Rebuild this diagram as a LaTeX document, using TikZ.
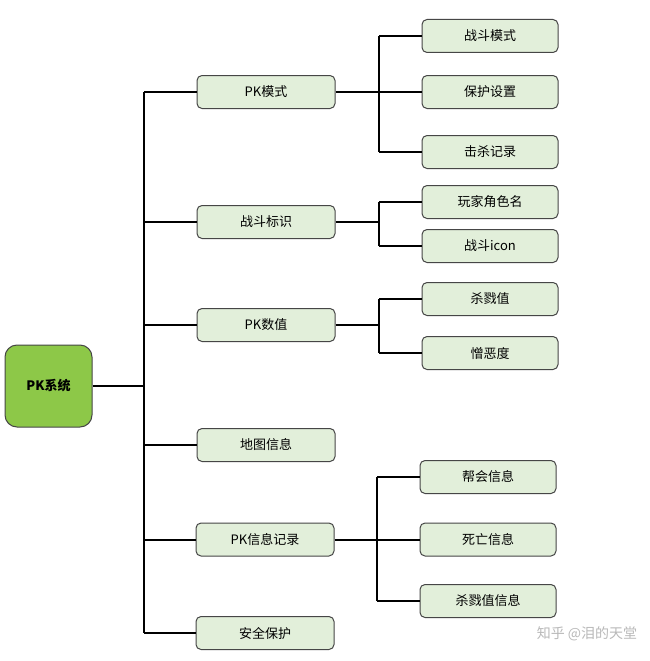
\documentclass[tikz,border=0pt]{standalone}
\usepackage{fontspec}
\setmainfont{Noto Sans CJK SC}
\definecolor{boxfill}{RGB}{226,239,218}
\definecolor{boxline}{RGB}{70,70,70}
\definecolor{rootfill}{RGB}{141,200,72}
\definecolor{wm}{RGB}{185,185,185}
\begin{document}
\begin{tikzpicture}[x=1pt,y=-1pt,
  leaf/.style={draw=boxline,line width=1pt,fill=boxfill,rounded corners=5pt,
    minimum width=136pt,minimum height=33pt,inner sep=0pt,
    font=\fontsize{13}{15}\selectfont},
  rootbox/.style={draw=boxline,line width=1pt,fill=rootfill,rounded corners=12pt,
    minimum width=87pt,minimum height=82pt,inner sep=0pt,
    font=\fontsize{13}{15}\selectfont\bfseries},
  link/.style={line width=2pt,black}]
\useasboundingbox (0,0) rectangle (650,661);
\fill[white] (0,0) rectangle (650,661);
% root
\node[rootbox] (root) at (48.5,386) {PK系统};
% level 1
\node[leaf,minimum width=138pt] (pk) at (266,92) {PK模式};
\node[leaf,minimum width=138pt] (zd) at (266,222) {战斗标识};
\node[leaf,minimum width=138pt] (sz) at (266,325) {PK数值};
\node[leaf,minimum width=138pt] (dt) at (266,445) {地图信息};
\node[leaf,minimum width=138pt] (jl) at (265,539.5) {PK信息记录};
\node[leaf,minimum width=138pt] (aq) at (265,633) {安全保护};
% level 2
\node[leaf] (a1) at (490,36) {战斗模式};
\node[leaf] (a2) at (490,92) {保护设置};
\node[leaf] (a3) at (490,152) {击杀记录};
\node[leaf] (b1) at (490,202) {玩家角色名};
\node[leaf] (b2) at (490,246) {战斗icon};
\node[leaf] (c1) at (490,299) {杀戮值};
\node[leaf] (c2) at (490,353) {憎恶度};
\node[leaf] (d1) at (488,477) {帮会信息};
\node[leaf] (d2) at (488,539.5) {死亡信息};
\node[leaf] (d3) at (488,601) {杀戮值信息};
% trunk
\coordinate (t) at (144,386);
\draw[link] (root.east) -- (t);
\draw[link] (t |- pk.west) -- (t |- aq.west);
\foreach \n in {pk,zd,sz,dt,jl,aq}{\draw[link] (t |- \n.west) -- (\n.west);}
% branch PK模式
\coordinate (ba) at (379,92);
\draw[link] (pk.east) -- (ba);
\draw[link] (ba |- a1.west) -- (ba |- a3.west);
\foreach \n in {a1,a2,a3}{\draw[link] (ba |- \n.west) -- (\n.west);}
% branch 战斗标识
\coordinate (bb) at (379,222);
\draw[link] (zd.east) -- (bb);
\draw[link] (bb |- b1.west) -- (bb |- b2.west);
\foreach \n in {b1,b2}{\draw[link] (bb |- \n.west) -- (\n.west);}
% branch PK数值
\coordinate (bc) at (379,325);
\draw[link] (sz.east) -- (bc);
\draw[link] (bc |- c1.west) -- (bc |- c2.west);
\foreach \n in {c1,c2}{\draw[link] (bc |- \n.west) -- (\n.west);}
% branch PK信息记录
\coordinate (bd) at (377,539.5);
\draw[link] (jl.east) -- (bd);
\draw[link] (bd |- d1.west) -- (bd |- d3.west);
\foreach \n in {d1,d2,d3}{\draw[link] (bd |- \n.west) -- (\n.west);}
% watermark
\node[text=wm,font=\fontsize{14}{16}\selectfont,inner sep=0pt] (wmk) at (587,634) {知乎 @泪的天堂};
\end{tikzpicture}
\end{document}
